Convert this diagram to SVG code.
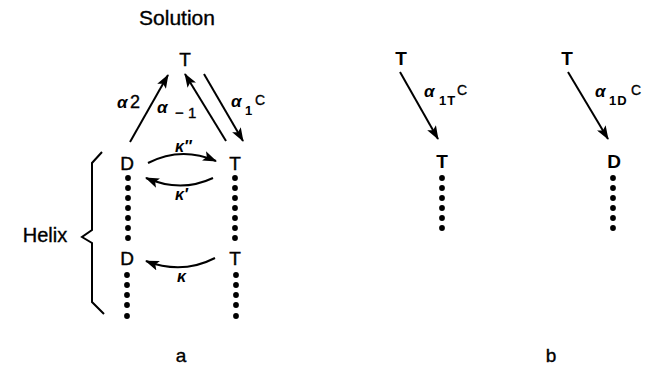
<svg xmlns="http://www.w3.org/2000/svg" width="646" height="367" viewBox="0 0 646 367">
  <style>
    .lbl { font-family: "Liberation Sans", Arial, sans-serif; fill: #000; stroke: #000; stroke-width: 0.35; }
    .node { font-family: "Liberation Sans", Arial, sans-serif; font-size: 19px; fill: #000; text-anchor: middle; stroke: #000; stroke-width: 0.4; }
    .nodeb { font-family: "Liberation Sans", Arial, sans-serif; font-size: 19px; font-weight: bold; fill: #000; text-anchor: middle; }
    .rate { font-family: "Liberation Sans", Arial, sans-serif; font-style: italic; font-weight: bold; font-size: 17px; fill: #000; }
    .sub { font-family: "Liberation Sans", Arial, sans-serif; font-weight: bold; font-size: 13px; fill: #000; }
    .kap { font-family: "Liberation Sans", Arial, sans-serif; font-style: italic; font-weight: bold; font-size: 16px; fill: #000; }
    .edge { stroke: #000; stroke-width: 2; fill: none; }
    .dot { fill: #000; }
  </style>
  <defs>
    <marker id="head" markerUnits="userSpaceOnUse" markerWidth="14" markerHeight="10" refX="13" refY="5" orient="auto">
      <path d="M0,0 L14,5 L0,10 L3,5 Z" fill="#000"/>
    </marker>
    <g id="dot"><circle r="2.9" class="dot"/></g>
  </defs>

  <rect width="646" height="367" fill="#fff"/>

  <!-- captions -->
  <text class="lbl" x="177" y="25" font-size="21" text-anchor="middle">Solution</text>
  <text class="lbl" x="45" y="242" font-size="20" text-anchor="middle" stroke-width="0.5">Helix</text>
  <text class="lbl" x="181" y="362" font-size="19" text-anchor="middle">a</text>
  <text class="lbl" x="551" y="362" font-size="19" text-anchor="middle">b</text>

  <!-- Panel a nodes -->
  <g id="sol-T"><text class="node" x="185" y="66">T</text></g>
  <g id="helix-D1"><text class="node" x="127" y="170">D</text></g>
  <g id="helix-T1"><text class="node" x="235" y="170">T</text></g>
  <g id="helix-D2"><text class="node" x="127" y="265">D</text></g>
  <g id="helix-T2"><text class="node" x="235" y="265">T</text></g>

  <!-- dotted strands -->
  <g id="strands">
    <use href="#dot" x="128" y="178"/><use href="#dot" x="128" y="188"/><use href="#dot" x="128" y="198"/>
    <use href="#dot" x="128" y="208"/><use href="#dot" x="128" y="218"/><use href="#dot" x="128" y="228"/>
    <use href="#dot" x="128" y="238"/>
    <use href="#dot" x="235" y="178"/><use href="#dot" x="235" y="188"/><use href="#dot" x="235" y="198"/>
    <use href="#dot" x="235" y="208"/><use href="#dot" x="235" y="218"/><use href="#dot" x="235" y="228"/>
    <use href="#dot" x="235" y="238"/>
    <use href="#dot" x="127" y="275"/><use href="#dot" x="127" y="285"/><use href="#dot" x="127" y="295"/>
    <use href="#dot" x="127" y="305"/><use href="#dot" x="127" y="316"/>
    <use href="#dot" x="236" y="275"/><use href="#dot" x="236" y="285"/><use href="#dot" x="236" y="295"/>
    <use href="#dot" x="236" y="305"/><use href="#dot" x="236" y="316"/>
    <!-- panel b strands -->
    <use href="#dot" x="442" y="178"/><use href="#dot" x="442" y="188"/><use href="#dot" x="442" y="198"/>
    <use href="#dot" x="442" y="208"/><use href="#dot" x="442" y="218"/><use href="#dot" x="442" y="228"/>
    <use href="#dot" x="613" y="178"/><use href="#dot" x="613" y="188"/><use href="#dot" x="613" y="198"/>
    <use href="#dot" x="613" y="208"/><use href="#dot" x="613" y="218"/><use href="#dot" x="613" y="228"/>
  </g>

  <!-- helix brace -->
  <path class="edge" stroke-width="2.3" d="M102,152 L92,163 L92,230 L82,237 L92,243 L92,302 L104,314"/>

  <g id="connectors">
    <line class="edge" x1="130" y1="142" x2="168" y2="75" marker-end="url(#head)"/>
    <line class="edge" x1="226" y1="141" x2="185" y2="74" marker-end="url(#head)"/>
    <line class="edge" x1="204" y1="74" x2="243" y2="141" marker-end="url(#head)"/>
    <path class="edge" d="M148,163 Q181,146 216,161" marker-end="url(#head)"/>
    <path class="edge" d="M213,178 Q181,193 146,178" marker-end="url(#head)"/>
    <path class="edge" d="M215,258 Q182,275 146,261" marker-end="url(#head)"/>
    <line class="edge" x1="400" y1="72" x2="438" y2="139" marker-end="url(#head)"/>
    <line class="edge" x1="568" y1="72" x2="608" y2="139" marker-end="url(#head)"/>
  </g>

  <!-- rate labels, panel a -->
  <text class="rate" x="117" y="108">α</text>
  <text class="lbl" x="130" y="108" font-size="18">2</text>
  <text class="rate" x="157" y="113">α</text>
  <text class="lbl" x="175" y="118" font-size="15">− 1</text>
  <text class="rate" x="231" y="107">α</text>
  <text class="sub" x="245" y="115" font-size="15">1</text>
  <text class="lbl" x="255" y="105" font-size="14">C</text>

  <text class="kap" x="175" y="152">κ″</text>
  <text class="kap" x="175" y="200">κ′</text>
  <text class="kap" x="177" y="282">κ</text>

  <!-- Panel b nodes -->
  <g id="b-sol-T1"><text class="nodeb" x="401" y="65">T</text></g>
  <g id="b-helix-T"><text class="nodeb" x="442" y="168">T</text></g>
  <g id="b-sol-T2"><text class="nodeb" x="567" y="65">T</text></g>
  <g id="b-helix-D"><text class="nodeb" x="614" y="168">D</text></g>

  <!-- rate labels, panel b -->
  <text class="rate" x="424" y="97">α</text>
  <text class="sub" x="439" y="105" letter-spacing="1">1T</text>
  <text class="lbl" x="457" y="95" font-size="14">C</text>
  <text class="rate" x="595" y="97">α</text>
  <text class="sub" x="609" y="105" letter-spacing="1">1D</text>
  <text class="lbl" x="631" y="95" font-size="14">C</text>
</svg>
